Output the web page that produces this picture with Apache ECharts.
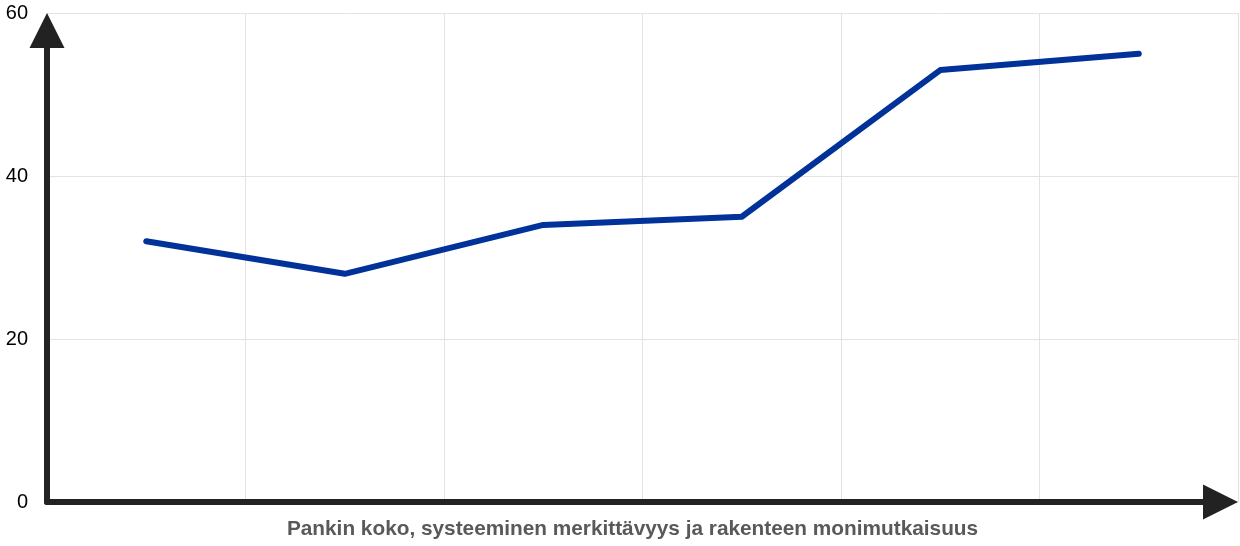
<!DOCTYPE html>
<html><head><meta charset="utf-8">
<script src="https://cdn.jsdelivr.net/npm/echarts@6/dist/echarts.min.js"></script>
<style>html,body{margin:0;padding:0;background:#fff}#c{width:1240px;height:546px}</style>
</head><body><div id="c"></div>
<script>
const categories = ['1', '2', '3', '4', '5', '6'];
const values = [32, 28, 34, 35, 53, 55];
const yTicks = [0, 20, 40, 60];
const xTitle = 'Pankin koko, systeeminen merkittävyys ja rakenteen monimutkaisuus';

const axisColor = '#222222';
const chart = echarts.init(document.getElementById('c'));
chart.setOption({
  animation: false,
  grid: [
    { left: 47, right: 2, top: 13, bottom: 44, containLabel: false },
    { left: 47, right: 10, top: 21, bottom: 44, containLabel: false }
  ],
  xAxis: [{
    type: 'category',
    gridIndex: 0,
    data: categories,
    boundaryGap: true,
    name: xTitle,
    nameLocation: 'middle',
    nameGap: 17,
    nameTextStyle: { fontFamily: 'Liberation Sans', fontSize: 20.8, fontWeight: 'bold', color: '#595959', verticalAlign: 'top', padding: [0, 20, 0, 0] },
    axisLine: { show: false },
    axisTick: { show: false },
    axisLabel: { show: false },
    splitLine: { show: true, interval: 0, lineStyle: { color: '#e3e3e3', width: 1 } }
  }, {
    type: 'value',
    gridIndex: 1,
    min: 0, max: 1,
    axisLine: { show: true, lineStyle: { color: axisColor, width: 6 }, symbol: ['none', 'triangle'], symbolSize: [35, 35], symbolOffset: [0, -9.5] },
    axisTick: { show: false },
    axisLabel: { show: false },
    splitLine: { show: false }
  }],
  yAxis: [{
    type: 'value',
    gridIndex: 0,
    min: yTicks[0], max: yTicks[yTicks.length - 1], interval: 20,
    axisLine: { show: false },
    axisTick: { show: false },
    axisLabel: { show: true, margin: 19, fontFamily: 'Liberation Sans', fontSize: 20, color: '#000' },
    splitLine: { show: true, lineStyle: { color: '#e3e3e3', width: 1 } }
  }, {
    type: 'value',
    gridIndex: 1,
    min: 0, max: 1,
    axisLine: { show: true, lineStyle: { color: axisColor, width: 6 }, symbol: ['none', 'triangle'], symbolSize: [35, 35], symbolOffset: [0, -9.5] },
    axisTick: { show: false },
    axisLabel: { show: false },
    splitLine: { show: false }
  }],
  series: [{
    type: 'line',
    xAxisIndex: 0,
    yAxisIndex: 0,
    data: values,
    showSymbol: false,
    symbol: 'none',
    z: 1,
    lineStyle: { color: '#003299', width: 6, cap: 'round', join: 'round' }
  }]
});
</script></body></html>
